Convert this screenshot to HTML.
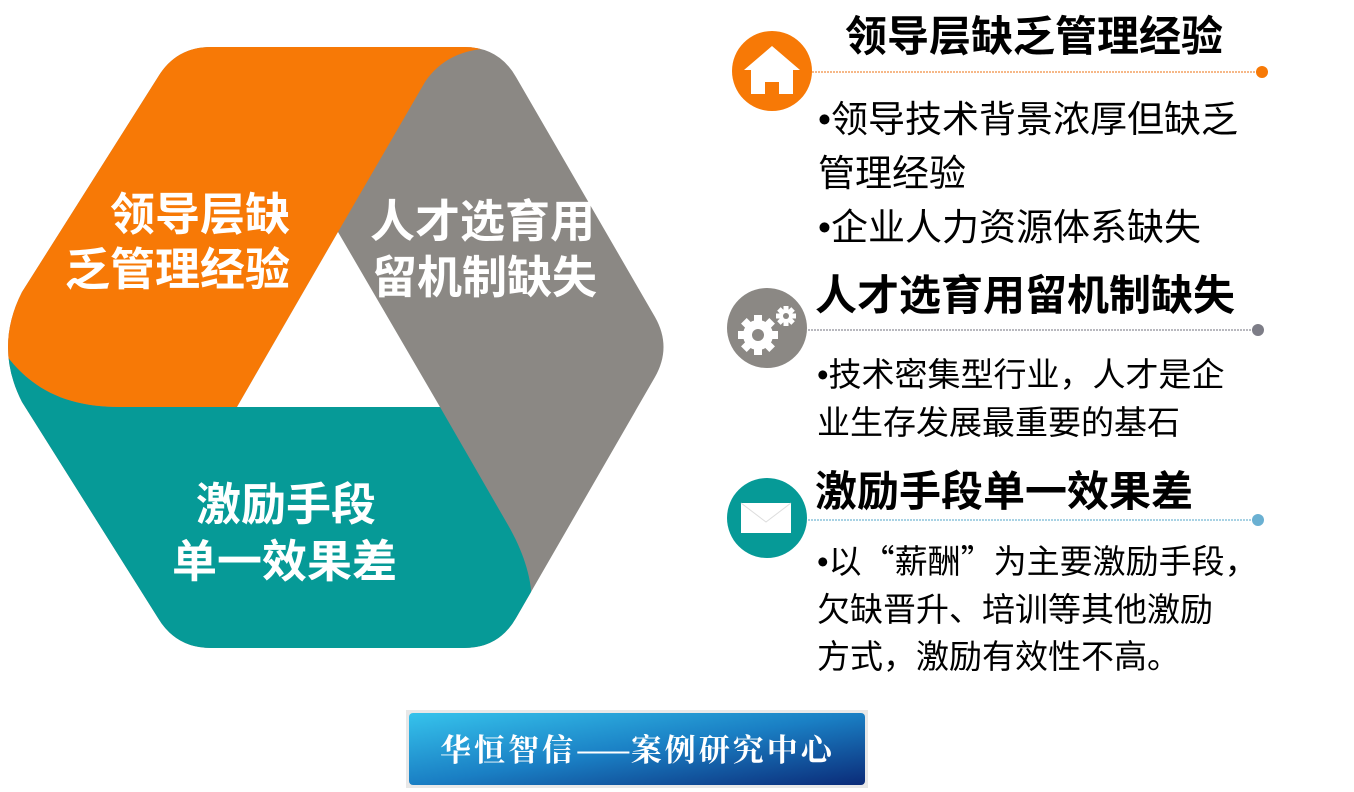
<!DOCTYPE html>
<html><head><meta charset="utf-8">
<style>
html,body{margin:0;padding:0;background:#fff;}
body{width:1354px;height:792px;position:relative;overflow:hidden;font-family:"Liberation Sans","Noto Sans CJK SC",sans-serif;}
.t{position:absolute;white-space:nowrap;line-height:1;}
.hx{color:#fff;font-weight:bold;font-size:45px;}
.ti{color:#000;font-weight:bold;font-size:42px;}
.b{color:#000;font-size:33px;}
.b1{color:#000;font-size:37px;}
.cj{font-family:"Noto Sans CJK SC",sans-serif;}
</style></head><body>
<svg width="1354" height="792" style="position:absolute;left:0;top:0">
<defs>
<clipPath id="hex"><path d="M22,292 L158,77 Q176,47 211,47 L464,47 Q499,47 516,77 L655,317 Q672,347 655,377 L516,618 Q499,648 464,648 L211,648 Q176,648 158,618 L22,402 Q-6,347 22,292 Z"/></clipPath>
<linearGradient id="bn" x1="0" y1="0" x2="1" y2="1">
<stop offset="0" stop-color="#36c3ec"/><stop offset="0.5" stop-color="#1a7fc4"/><stop offset="1" stop-color="#0b2b78"/></linearGradient>
</defs>
<g clip-path="url(#hex)">
<rect x="0" y="0" width="700" height="700" fill="#8b8884"/>
<path d="M237,407 L440,407 L508,525 C535,572 545,625 505,665 L-10,700 L-10,330 C20,385 60,407 120,407 Z" fill="#069a97"/>
<path d="M237,407 L338,232 L425,82 C448,48 490,40 540,58 L540,0 L-10,0 L-10,330 C20,385 60,407 120,407 Z" fill="#f77906"/>
</g>
<path d="M338,232 L440,407 L237,407 Z" fill="#fff"/>
<line x1="812" y1="72" x2="1262" y2="72" stroke="#f4a060" stroke-width="1.5" stroke-dasharray="2,1"/>
<circle cx="1262" cy="72" r="6" fill="#f77906"/>
<line x1="808" y1="330" x2="1258" y2="330" stroke="#a0a0a8" stroke-width="1.5" stroke-dasharray="2,1"/>
<circle cx="1258" cy="330" r="6" fill="#7d7d87"/>
<line x1="808" y1="520" x2="1258" y2="520" stroke="#8cc4dc" stroke-width="1.5" stroke-dasharray="2,1"/>
<circle cx="1258" cy="520" r="6" fill="#6ab0d2"/>
<circle cx="772" cy="71" r="40" fill="#f77906"/>
<path d="M744,70 L772,46 L800,70 L793,70 L793,94 L779,94 L779,82 L765,82 L765,94 L751,94 L751,70 Z" fill="#fff"/>
<circle cx="767" cy="328" r="40" fill="#8b8884"/>
<g fill="#fff">
<circle cx="758" cy="335" r="15"/>
<g transform="translate(758,335)">
<rect x="-4" y="-20" width="8" height="40"/><rect x="-20" y="-4" width="40" height="8"/>
<rect x="-4" y="-20" width="8" height="40" transform="rotate(45)"/><rect x="-4" y="-20" width="8" height="40" transform="rotate(-45)"/>
</g>
<circle cx="786" cy="316" r="7"/>
<g transform="translate(786,316)">
<rect x="-2.5" y="-10" width="5" height="20"/><rect x="-10" y="-2.5" width="20" height="5"/>
<rect x="-2.5" y="-10" width="5" height="20" transform="rotate(45)"/><rect x="-2.5" y="-10" width="5" height="20" transform="rotate(-45)"/>
</g>
</g>
<circle cx="758" cy="335" r="6" fill="#8b8884"/>
<circle cx="786" cy="316" r="3" fill="#8b8884"/>
<circle cx="767" cy="518" r="40" fill="#069a97"/>
<rect x="741" y="503" width="50" height="30" fill="#fff"/>
<path d="M741,503 L766,522 L791,503" fill="none" stroke="#ddd" stroke-width="1"/>
<rect x="406" y="710" width="462" height="78" fill="#e8e8e8"/>
<rect x="409" y="713" width="456" height="72" rx="4" fill="url(#bn)"/>
</svg>
<div class="t hx" style="left:110px;top:192px">领导层缺</div>
<div class="t hx" style="left:65px;top:247px">乏管理经验</div>
<div class="t hx" style="left:370px;top:199px">人才选育用</div>
<div class="t hx" style="left:372px;top:255px">留机制缺失</div>
<div class="t hx" style="left:196px;top:482px">激励手段</div>
<div class="t hx" style="left:172px;top:539px">单一效果差</div>

<div class="t ti" style="left:845px;top:16px">领导层缺乏管理经验</div>
<div class="t b1" style="left:818px;top:101px">•领导技术背景浓厚但缺乏</div>
<div class="t b1" style="left:818px;top:155px">管理经验</div>
<div class="t b1" style="left:818px;top:209px">•企业人力资源体系缺失</div>
<div class="t ti" style="left:815px;top:275px">人才选育用留机制缺失</div>
<div class="t b" style="left:817px;top:358px">•技术密集型行业，人才是企</div>
<div class="t b" style="left:817px;top:406px">业生存发展最重要的基石</div>
<div class="t ti" style="left:815px;top:471px">激励手段单一效果差</div>
<div class="t b" style="left:817px;top:543px">•以<span class="cj">“</span>薪酬<span class="cj">”</span>为主要激励手段，</div>
<div class="t b" style="left:817px;top:593px">欠缺晋升、培训等其他激励</div>
<div class="t b" style="left:817px;top:640px">方式，激励有效性不高。</div>

<div class="t" style="left:440px;top:732px;color:#fff;font-size:31px;font-weight:bold;letter-spacing:3px;font-family:'Noto Serif CJK SC','Liberation Serif',serif;">华恒智信<span style="letter-spacing:0">——</span>案例研究中心</div>
</body></html>
